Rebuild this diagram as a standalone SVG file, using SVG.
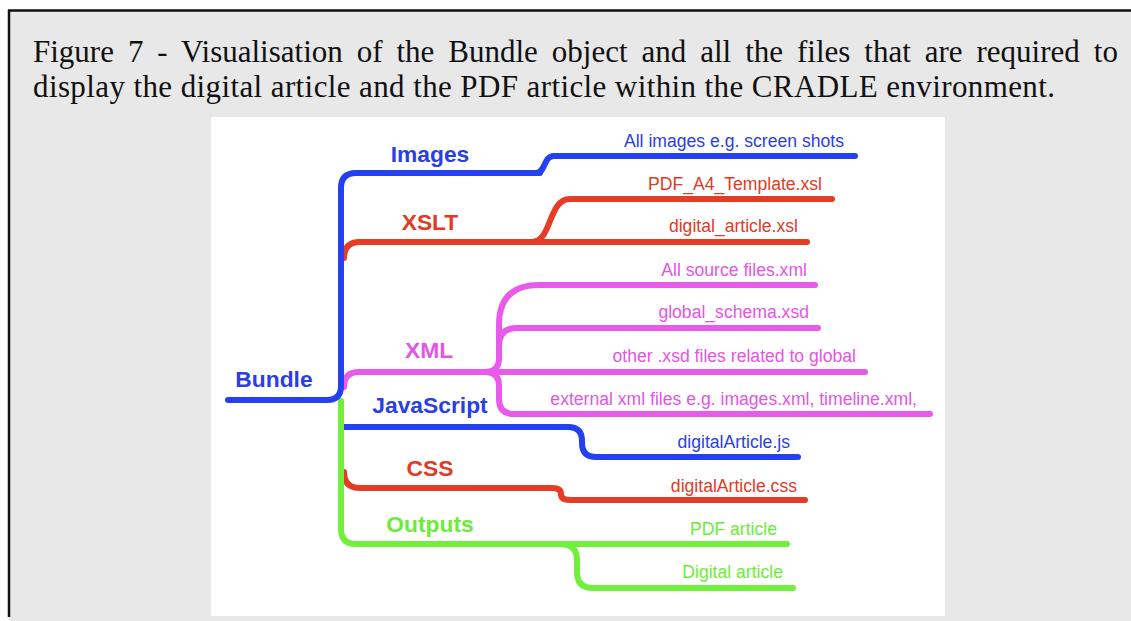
<svg xmlns="http://www.w3.org/2000/svg" width="1131" height="621" viewBox="0 0 1131 621">
<style>
.title{font-family:"Liberation Serif","Times New Roman",serif;font-size:31px;fill:#111}
.lbl{font-family:"Liberation Sans",Arial,sans-serif;font-size:22.8px;font-weight:bold;text-anchor:middle}
.leaf{font-family:"Liberation Sans",Arial,sans-serif;font-size:17.6px;text-anchor:end}
.ln{fill:none;stroke-linecap:round;stroke-linejoin:round;stroke-width:6}
.b{stroke:#2340f2}.r{stroke:#e63b25}.m{stroke:#e85ae9}.g{stroke:#70f03a}
.tb{fill:#2a3ee8}.tr{fill:#e23a26}.tm{fill:#e455e6}.tg{fill:#6cec38}
</style>
<rect x="0" y="0" width="1131" height="621" fill="#ffffff"/>
<rect x="9" y="10" width="1122" height="611" fill="#e8e8e8"/>
<line x1="8" y1="10.5" x2="1131" y2="10.5" stroke="#111" stroke-width="2.5"/>
<line x1="9" y1="10" x2="9" y2="617" stroke="#111" stroke-width="2.5"/>
<rect x="211" y="117" width="734" height="499" fill="#ffffff"/>
<text class="title" x="33" y="62" word-spacing="6.2">Figure 7 - Visualisation of the Bundle object and all the files that are required to</text>
<text class="title" x="33" y="97" textLength="1022" lengthAdjust="spacing">display the digital article and the PDF article within the CRADLE environment.</text>

<g id="connectors">
<path class="ln r" d="M 344 258 Q 344 242 360 242 L 807 242"/>
<path class="ln r" d="M 532 242 C 552 242 548 199 570 199 L 832 199"/>
<path class="ln m" d="M 344 387 Q 344 372 359 372 L 865 372"/>
<path class="ln m" d="M 485 372 Q 499 372 499 358 L 499 325 Q 499 285 539 285 L 815 285"/>
<path class="ln m" d="M 499 346 Q 499 328 517 328 L 818 328"/>
<path class="ln m" d="M 485 372 Q 499 372 499 386 L 499 399 Q 499 414 514 414 L 930 414"/>
<path class="ln b" d="M 343 427 L 568 427 Q 582 427 582 441 L 582 443 Q 582 457 596 457 L 798 457"/>
<path class="ln r" d="M 344 472 Q 344 488 360 488 L 552 488 Q 561 488 561 494 Q 561 500 570 500 L 805 500"/>
<path class="ln g" d="M 560 544 Q 577 544 577 560 L 577 572 Q 577 588 593 588 L 793 588"/>
<path class="ln g" stroke-width="6.5" d="M 341 401 L 341 529 Q 341 544 356 544 L 787 544"/>
<path class="ln b" d="M 536 173 C 546 173 543 156 554 156 L 855 156"/>
<path class="ln b" stroke-width="7" d="M 228 400 L 327 400 Q 341 400 341 386 L 341 188 Q 341 173 356 173 L 540 173"/>
</g>

<g id="bundle"><text class="lbl tb" x="274" y="387">Bundle</text></g>
<g id="images"><text class="lbl tb" x="430" y="162">Images</text></g>
<g id="xslt"><text class="lbl tr" x="430" y="230">XSLT</text></g>
<g id="xml"><text class="lbl tm" x="429" y="358">XML</text></g>
<g id="javascript"><text class="lbl tb" x="430" y="413">JavaScript</text></g>
<g id="css"><text class="lbl tr" x="430" y="476">CSS</text></g>
<g id="outputs"><text class="lbl tg" x="430" y="532">Outputs</text></g>

<g id="all-images"><text class="leaf tb" x="844" y="147">All images e.g. screen shots</text></g>
<g id="pdf-template"><text class="leaf tr" x="822" y="190">PDF_A4_Template.xsl</text></g>
<g id="digital-xsl"><text class="leaf tr" x="798" y="232">digital_article.xsl</text></g>
<g id="all-source"><text class="leaf tm" x="807" y="276">All source files.xml</text></g>
<g id="global-schema"><text class="leaf tm" x="809" y="318">global_schema.xsd</text></g>
<g id="other-xsd"><text class="leaf tm" x="856" y="362">other .xsd files related to global</text></g>
<g id="external-xml"><text class="leaf tm" x="917" y="405">external xml files e.g. images.xml, timeline.xml,</text></g>
<g id="digital-js"><text class="leaf tb" x="790" y="448">digitalArticle.js</text></g>
<g id="digital-css"><text class="leaf tr" x="797" y="492">digitalArticle.css</text></g>
<g id="pdf-article"><text class="leaf tg" x="777" y="535">PDF article</text></g>
<g id="digital-article"><text class="leaf tg" x="783" y="578">Digital article</text></g>
</svg>
